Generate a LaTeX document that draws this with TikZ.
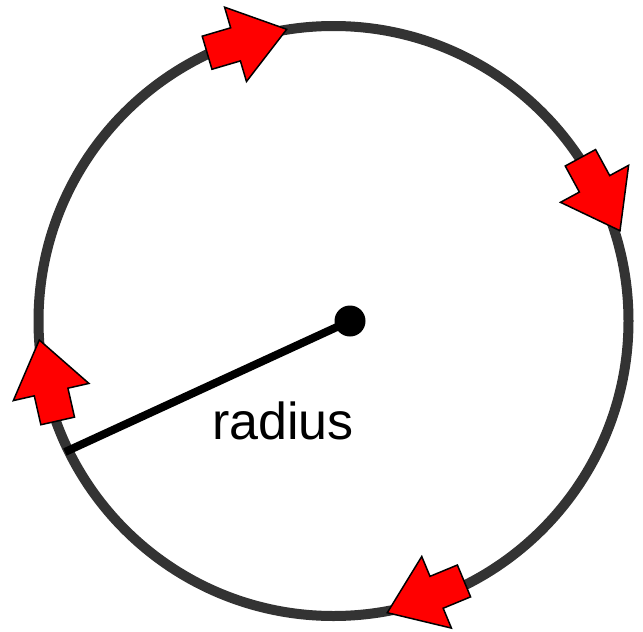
\documentclass[tikz,border=0pt]{standalone}
\usepackage{fontspec}
\setmainfont{Liberation Sans}
\usepackage{tikz}
\usetikzlibrary{shapes.arrows}
\definecolor{rimgray}{RGB}{51,51,51}

\tikzset{
  flowarrow/.style={single arrow, draw=black, fill=red, line width=1.5pt,
    inner sep=0pt, inner ysep=16.5pt, outer sep=0pt, minimum height=83pt,
    single arrow head extend=21.5pt, single arrow tip angle=72, anchor=tip},
  radiusline/.style={line width=8pt, black}
}

\begin{document}
\begin{tikzpicture}[x=1pt,y=-1pt]
  \useasboundingbox (0,0) rectangle (643,632);
  % the circle
  \draw[rimgray, line width=10pt] (333.5,321) circle (295);
  % centre and radius
  \node[circle, fill=black, inner sep=0pt, minimum size=31pt] (hub) at (350,321) {};
  \coordinate (rim) at (65,452);
  \draw[radiusline] (hub.center) -- (rim);
  \node[anchor=base, font=\fontsize{52}{62}\selectfont] (lbl) at (283,439) {radius};
  % direction arrows
  \node[flowarrow, rotate=16.4] (atop) at (286.7,29.3) {};
  \node[flowarrow, rotate=-61.5] (aright) at (620,230.7) {};
  \node[flowarrow, rotate=202.5] (abottom) at (387.3,612.7) {};
  \node[flowarrow, rotate=102.8] (aleft) at (39.3,340) {};
\end{tikzpicture}
\end{document}
